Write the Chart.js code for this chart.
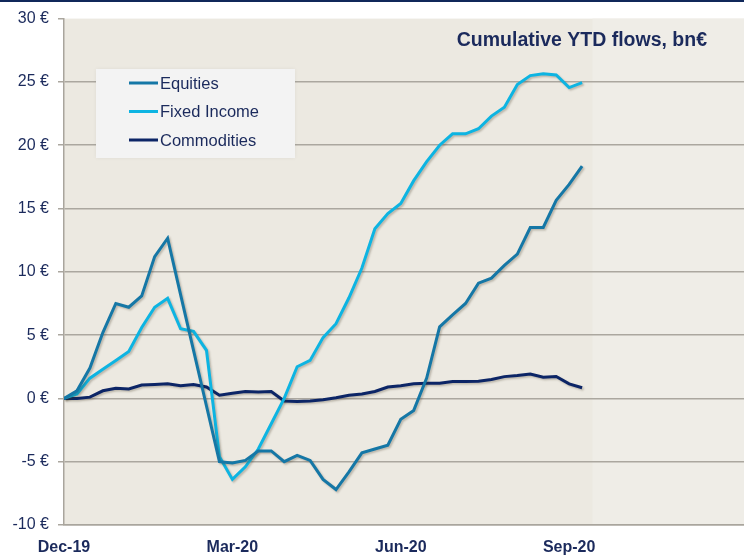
<!DOCTYPE html>
<html>
<head>
<meta charset="utf-8">
<script src="https://cdn.jsdelivr.net/npm/chart.js@4/dist/chart.umd.min.js"></script>
<style>
  html, body { margin: 0; padding: 0; background: #fff; }
  #wrap { position: relative; width: 744px; height: 559px; }
</style>
</head>
<body>
<div id="wrap"><canvas id="flowsChart" width="744" height="559"></canvas></div>
<script>
// weekly points, week 0 = end of Dec-19
var weeks = [0, 1, 2, 3, 4, 5, 6, 7, 8, 9, 10, 11, 12, 13, 14, 15, 16, 17, 18, 19, 20,
             21, 22, 23, 24, 25, 26, 27, 28, 29, 30, 31, 32, 33, 34, 35, 36, 37, 38, 39, 40];

var equities = [0, 0.6, 2.4, 5.2, 7.5, 7.2, 8.1, 11.2, 12.65, 8.2, 3.8, -0.6,
                -5.0, -5.1, -4.9, -4.15, -4.15, -5.0, -4.5, -4.9, -6.4, -7.2, -5.8, -4.3, -4.0, -3.7,
                -1.65, -0.95, 1.6, 5.65, 6.6, 7.5, 9.1, 9.5, 10.5, 11.4, 13.5, 13.5, 15.65, 16.9, 18.35];

var fixedIncome = [0, 0.35, 1.6, 2.3, 3.0, 3.7, 5.6, 7.2, 7.9, 5.5, 5.3, 3.8,
                   -4.6, -6.4, -5.4, -4.0, -2.0, 0.0,
                   2.5, 3.0, 4.8, 5.9, 7.95, 10.3, 13.4, 14.6, 15.4, 17.2, 18.7, 20.0, 20.9, 20.9,
                   21.3, 22.3, 23.0, 24.8, 25.5, 25.65, 25.55, 24.55, 24.95];

var commodities = [0, 0.0, 0.1, 0.6, 0.8, 0.75, 1.05, 1.1, 1.15, 1.0, 1.1, 0.9,
                   0.25, 0.4, 0.55, 0.5, 0.55, -0.2, -0.25, -0.2, -0.1, 0.05, 0.25, 0.35, 0.55,
                   0.9, 1.0, 1.15, 1.2, 1.2, 1.33, 1.33, 1.36, 1.5, 1.72, 1.8, 1.93, 1.67, 1.73, 1.15, 0.84];

var xTickWeeks = [0, 13, 26, 39];
var xTickLabels = ['Dec-19', 'Mar-20', 'Jun-20', 'Sep-20'];
var yTicks = [-10, -5, 0, 5, 10, 15, 20, 25, 30];

var seriesNames = ['Equities', 'Fixed Income', 'Commodities'];
var seriesColors = ['#1577A6', '#0DB4E2', '#0C2566'];
var chartTitle = 'Cumulative YTD flows, bn\u20ac';

var FONT = "'Liberation Sans', Arial, sans-serif";
var NAVY = '#1B2A5C';

function pts(vals) {
  return vals.map(function (v, i) { return { x: weeks[i], y: v }; });
}

var plotBg = {
  id: 'plotBg',
  beforeDraw: function (chart) {
    var a = chart.chartArea, c = chart.ctx;
    c.save();
    c.fillStyle = '#ECE9E1';
    c.fillRect(a.left, a.top, a.right - a.left, a.bottom - a.top);
    var xr = chart.scales.x.getPixelForValue(40.8);
    c.fillStyle = '#EFEDE7';
    c.fillRect(xr, a.top, a.right - xr, a.bottom - a.top);
    // top rule
    c.fillStyle = '#10285A';
    c.fillRect(0, 0, chart.width, 2);
    c.restore();
  }
};

var lineShadow = {
  id: 'lineShadow',
  beforeDatasetDraw: function (chart) {
    var c = chart.ctx;
    c.save();
    c.shadowColor = 'rgba(60,50,30,0.28)';
    c.shadowBlur = 2;
    c.shadowOffsetX = 1.5;
    c.shadowOffsetY = 1.5;
  },
  afterDatasetDraw: function (chart) {
    chart.ctx.restore();
  }
};

var overlay = {
  id: 'overlay',
  afterDraw: function (chart) {
    var c = chart.ctx;
    c.save();
    // title
    c.font = 'bold 19.5px ' + FONT;
    c.fillStyle = NAVY;
    c.textAlign = 'right';
    c.textBaseline = 'middle';
    c.fillText(chartTitle, 707, 41);
    // legend box
    c.shadowColor = 'rgba(0,0,0,0.06)';
    c.shadowBlur = 4;
    c.fillStyle = '#F3F3F3';
    c.fillRect(96, 69, 199, 89);
    c.shadowColor = 'transparent';
    c.font = '16.5px ' + FONT;
    c.textAlign = 'left';
    for (var i = 0; i < seriesNames.length; i++) {
      var y = 83 + i * 28.5;
      c.strokeStyle = seriesColors[i];
      c.lineWidth = 3;
      c.beginPath();
      c.moveTo(129, y);
      c.lineTo(158, y);
      c.stroke();
      c.fillStyle = NAVY;
      c.fillText(seriesNames[i], 160, y + 1);
    }
    c.restore();
  }
};

var ctx = document.getElementById('flowsChart').getContext('2d');
var flowsChart = new Chart(ctx, {
  type: 'line',
  data: {
    datasets: [
      { label: seriesNames[0], data: pts(equities), borderColor: seriesColors[0] },
      { label: seriesNames[1], data: pts(fixedIncome), borderColor: seriesColors[1] },
      { label: seriesNames[2], data: pts(commodities), borderColor: seriesColors[2] }
    ]
  },
  options: {
    responsive: false,
    animation: false,
    devicePixelRatio: 1,
    layout: { padding: { top: 16, left: 0, right: 0, bottom: 0 } },
    elements: {
      line: { borderWidth: 3, tension: 0, borderJoinStyle: 'miter', borderCapStyle: 'butt' },
      point: { radius: 0, hoverRadius: 0 }
    },
    plugins: {
      legend: { display: false },
      tooltip: { enabled: false },
      title: { display: false }
    },
    scales: {
      x: {
        type: 'linear',
        min: 0,
        max: 52.5,
        afterBuildTicks: function (scale) {
          scale.ticks = xTickWeeks.map(function (v) { return { value: v }; });
        },
        afterFit: function (scale) { scale.height = 34; },
        grid: { display: false, drawTicks: false },
        border: { display: true, color: '#A9A59D', width: 1.5 },
        ticks: {
          autoSkip: false,
          maxRotation: 0,
          padding: 13,
          color: NAVY,
          font: { family: FONT, size: 16, weight: 'bold' },
          callback: function (v) {
            var k = xTickWeeks.indexOf(v);
            return k >= 0 ? xTickLabels[k] : '';
          }
        }
      },
      y: {
        min: -10,
        max: 30,
        afterBuildTicks: function (scale) {
          scale.ticks = yTicks.map(function (v) { return { value: v }; });
        },
        afterFit: function (scale) { scale.width = 64; },
        grid: {
          color: function (c) { return c.tick && c.tick.value === 30 ? 'rgba(0,0,0,0)' : '#ABA79F'; },
          tickColor: '#ABA79F',
          lineWidth: 1.5,
          tickLength: 6
        },
        border: { display: true, color: '#A9A59D', width: 1.5 },
        ticks: {
          padding: 9,
          color: NAVY,
          font: { family: FONT, size: 16 },
          callback: function (v) { return v + ' \u20ac'; }
        }
      }
    }
  },
  plugins: [plotBg, lineShadow, overlay]
});
</script>
</body>
</html>
